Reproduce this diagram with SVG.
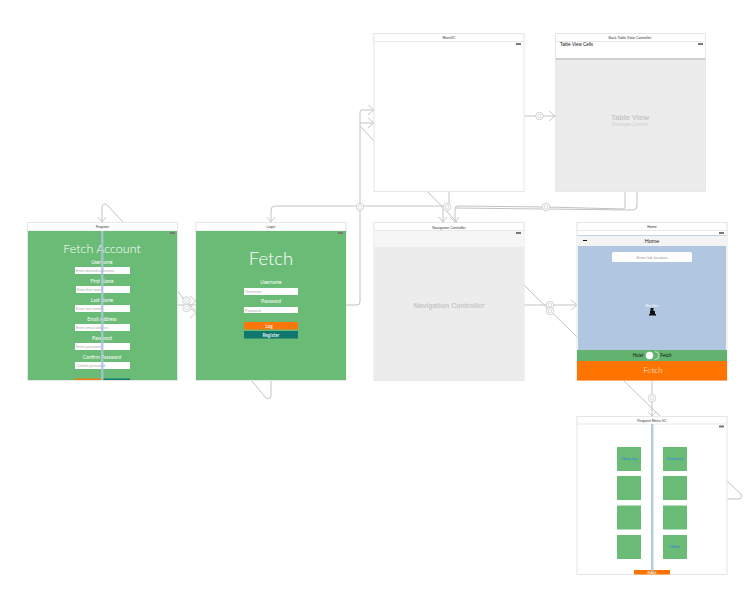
<svg xmlns="http://www.w3.org/2000/svg" width="754" height="607" viewBox="0 0 754 607">
<style>
text{font-family:"Liberation Sans",Arial,sans-serif;text-anchor:middle}
.frame{fill:#fff;stroke:#e6e6e6;stroke-width:1}
.bar{fill:#fff;stroke:#e4e4e4;stroke-width:.8}
.t{font-size:3.6px;fill:#333}
.batt{fill:#777}
.green{fill:#6abb75}
.fld{fill:#fff}
.lbl{font-family:Lato,"Liberation Sans",sans-serif;font-size:4.8px;fill:#fff}
.thin{font-family:Lato,"Liberation Sans",sans-serif;font-weight:300;fill:#fff}
.ph{font-size:3.6px;fill:#aaa;text-anchor:start}
.guide{fill:#a8c4de;opacity:.85}
.c{fill:none;stroke:#c2c2c2;stroke-width:1;stroke-linejoin:round}
.a{fill:none;stroke:#c2c2c2;stroke-width:.9}
.b{fill:#fff;stroke:#c8c8c8;stroke-width:.8}
.g{fill:none;stroke:#c8c8c8;stroke-width:.6}
.tile{fill:#6abb75}
.blue{font-size:4.4px;fill:#2b7de9}
</style>
<defs>
<g id="badge"><circle class="b" r="3.800"/><rect class="g" x="-1.500" y="-1.700" width="3" height="3.400" rx=".5"/></g>
</defs>
<rect width="754" height="607" fill="#fff"/>
<g id="connectors">
<path class="c" d="M123 222L108 206Q104 202 102 206V221"/>
<path class="a" d="M98 217L102 222L106 217"/>
<path class="c" d="M177 290L186 302L196 311"/>
<path class="c" d="M177 305H196"/>
<path class="a" d="M190 296L196 301L190 306M190 308L196 313L190 318"/>
<use href="#badge" x="186.500" y="300.500" transform="translate(0 0)"/><use href="#badge" x="186.500" y="308"/>
<path class="c" d="M251 380L266 398Q271 401 271 394V380"/>
<path class="c" d="M346 305H357Q360 305 360 302V112Q360 110 362 110H373"/>
<path class="a" d="M368 105L374 110L368 115M368 118L374 123L368 128"/>
<path class="c" d="M360 123H373M360 126L374 141"/>
<path class="c" d="M445 206H275Q271 206 271 210V221"/>
<path class="a" d="M267 217L271 222L275 217"/>
<path class="c" d="M427 191L458 223"/>
<path class="c" d="M449 191V207M443 206V221"/>
<path class="a" d="M439 217L443 222L447 217M450 217L455 222L459 217"/>
<path class="c" d="M455 221V209Q455 206 458 206L546 207L623 209Q625 209 625 207V191"/>
<path class="c" d="M455 208L633 210Q637 210 637 206V191"/>
<path class="c" d="M524 116H555"/>
<path class="a" d="M549 111L555 116L549 121"/>
<path class="c" d="M524 285L577 337"/>
<path class="c" d="M524 305H577"/>
<path class="a" d="M571 300L577 305L571 310"/>
<path class="c" d="M623 380L660 416"/>
<path class="c" d="M652 380V416"/>
<path class="a" d="M648 412L652 416L656 412"/>
<path class="c" d="M727 481L741 494Q743 499 738 499H727"/>
<use href="#badge" x="360" y="207"/>
<use href="#badge" x="447" y="207"/>
<use href="#badge" x="546" y="207"/>
<use href="#badge" x="539.500" y="116"/>
<use href="#badge" x="550" y="305"/><use href="#badge" x="550" y="311"/>
<use href="#badge" x="652" y="398"/>
</g>
<g id="node-register">
<rect class="frame" x="27.500" y="222.500" width="150" height="158"/>
<rect class="bar" x="27.500" y="222.500" width="150" height="8.500"/>
<text class="t" x="102.500" y="228">Register</text>
<rect class="green" x="28" y="231" width="149" height="149"/>
<rect class="batt" x="170" y="232" width="5" height="2"/>
<text class="thin" x="102" y="253" font-size="12.500">Fetch Account</text>
<text class="lbl" x="102" y="264">Username</text><rect class="fld" x="75" y="267" width="55" height="7"/><text class="ph" x="76" y="272">Enter desired username</text>
<text class="lbl" x="102" y="283">First Name</text><rect class="fld" x="76" y="286" width="54" height="7"/><text class="ph" x="77" y="291">Enter first name</text>
<text class="lbl" x="102" y="302">Last Name</text><rect class="fld" x="75" y="305" width="55" height="7"/><text class="ph" x="76" y="310">Enter last name</text>
<text class="lbl" x="102" y="321">Email Address</text><rect class="fld" x="75" y="324" width="55" height="7"/><text class="ph" x="76" y="329">Enter email address</text>
<text class="lbl" x="102" y="340">Password</text><rect class="fld" x="75" y="343" width="55" height="7"/><text class="ph" x="76" y="348">Enter password</text>
<text class="lbl" x="102" y="359">Confirm Password</text><rect class="fld" x="75" y="362" width="55" height="7"/><text class="ph" x="76" y="367">Confirm password</text>
<rect x="75" y="378.500" width="27" height="1.500" fill="#f47b0e"/><rect x="103" y="378.500" width="27" height="1.500" fill="#127a6e"/>
<rect class="guide" x="101" y="231" width="2.500" height="149"/>
</g>
<g id="node-login">
<rect class="frame" x="196" y="222.500" width="150" height="158"/>
<rect class="bar" x="196" y="222.500" width="150" height="8.500"/>
<text class="t" x="271" y="228">Login</text>
<rect class="green" x="196" y="231" width="150" height="149"/>
<rect class="batt" x="338" y="232" width="5" height="2"/>
<text class="thin" x="271" y="265" font-size="18.500">Fetch</text>
<text class="lbl" x="271" y="284">Username</text><rect class="fld" x="244" y="288" width="54" height="7"/><text class="ph" x="245" y="293">Username</text>
<text class="lbl" x="271" y="303">Password</text><rect class="fld" x="244" y="307" width="54" height="6"/><text class="ph" x="245" y="311.500">Password</text>
<rect x="244" y="322" width="54" height="7.500" fill="#f8760a"/><text class="lbl" x="269" y="327.500">Log</text>
<rect x="244" y="331" width="54" height="7.500" fill="#10776e"/><text class="lbl" x="271" y="336.500">Register</text>
</g>
<g id="node-main">
<rect class="frame" x="374" y="33.500" width="150" height="158"/>
<rect class="bar" x="374" y="33.500" width="150" height="8"/>
<text class="t" x="449" y="39">MainVC</text>
<rect class="batt" x="516" y="43" width="5" height="2"/>
</g>
<g id="node-table">
<rect class="frame" x="555.500" y="33.500" width="150" height="158"/>
<rect class="bar" x="555.500" y="33.500" width="150" height="8"/>
<text class="t" x="630" y="39">Back Table View Controller</text>
<rect class="batt" x="698" y="43" width="5" height="2"/>
<text x="560" y="46" font-size="4.500" fill="#111" style="text-anchor:start">Table View Cells</text>
<rect x="555.500" y="59" width="150" height="132.500" fill="#ececec"/>
<rect x="555.500" y="58" width="150" height="2" fill="#cfcfcf"/>
<text x="630" y="119.500" font-size="7.500" font-weight="bold" fill="#c6c6c6">Table View</text>
<text x="630" y="125.500" font-size="4.500" fill="#cdcdcd">Prototype Content</text>
</g>
<g id="node-nav">
<rect class="frame" x="374" y="222.500" width="150" height="158"/>
<rect class="bar" x="374" y="222.500" width="150" height="8"/>
<text class="t" x="449" y="228.500">Navigation Controller</text>
<rect x="374" y="231" width="150" height="16" fill="#f6f6f6"/>
<rect class="batt" x="516" y="232" width="5" height="2"/>
<rect x="374" y="247" width="150" height="133.500" fill="#ececec"/>
<text x="449" y="308" font-size="7" font-weight="bold" fill="#c8c8c8">Navigation Controller</text>
</g>
<g id="node-home">
<rect class="frame" x="577" y="222.500" width="150" height="158"/>
<rect class="bar" x="577" y="222.500" width="150" height="8"/>
<text class="t" x="652" y="228">Home</text>
<rect class="batt" x="719" y="232" width="5" height="2"/>
<rect x="577" y="236" width="150" height="10" fill="#f4f4f4"/>
<rect x="577" y="235" width="150" height="1" fill="#c4d4e8"/>
<rect x="583" y="240" width="4" height="1" fill="#111"/>
<text x="652" y="242.500" font-size="5.500" fill="#222">Home</text>
<rect x="578" y="246" width="148" height="104" fill="#b1c6e1"/>
<rect x="612" y="252" width="80" height="10" rx="1.500" fill="#fff"/>
<text x="652" y="258.500" font-size="4" fill="#999">Enter lab location</text>
<text x="652" y="306.500" font-size="3" fill="#fff">Map View</text>
<path d="M650.500 308h3v3h1.500v3h1v1.500h-7v-1.500h1v-3h.5z" fill="#111"/>
<rect x="577" y="350" width="150" height="11" fill="#62b36f"/>
<text x="638" y="357" font-size="4.500" fill="#111">Hotel</text>
<text x="666" y="357" font-size="4.500" fill="#111">Fetch</text>
<circle cx="649.500" cy="355.500" r="3.700" fill="#fff"/><path d="M655 351.500a4 4 0 0 1 0 8" fill="none" stroke="#fff" stroke-width=".6"/>
<rect x="577" y="361" width="150" height="19.500" fill="#ff7300"/>
<text class="thin" x="653" y="373" font-size="8">Fetch</text>
</g>
<g id="node-request">
<rect class="frame" x="577" y="416.500" width="150" height="158"/>
<rect class="bar" x="577" y="416.500" width="150" height="7.500"/>
<text class="t" x="652" y="421.500">Request Menu VC</text>
<rect class="batt" x="719" y="425.500" width="5" height="2"/>
<rect class="tile" x="617" y="447" width="24" height="24"/><rect class="tile" x="663" y="447" width="24" height="24"/>
<rect class="tile" x="617" y="476" width="24" height="24"/><rect class="tile" x="663" y="476" width="24" height="24"/>
<rect class="tile" x="617" y="505.500" width="24" height="24"/><rect class="tile" x="663" y="505.500" width="24" height="24"/>
<rect class="tile" x="617" y="535" width="24" height="24"/><rect class="tile" x="663" y="535" width="24" height="24"/>
<text class="blue" x="629.500" y="460">Grocery</text>
<text class="blue" x="675" y="460">Delivery</text>
<text class="blue" x="674.500" y="548">Other</text>
<rect x="634" y="570" width="36" height="4.500" fill="#ff7300"/>
<rect class="guide" x="651" y="424" width="2.500" height="150"/>
<text x="652" y="574" font-size="4" fill="#fff">Back</text>
</g>
</svg>
